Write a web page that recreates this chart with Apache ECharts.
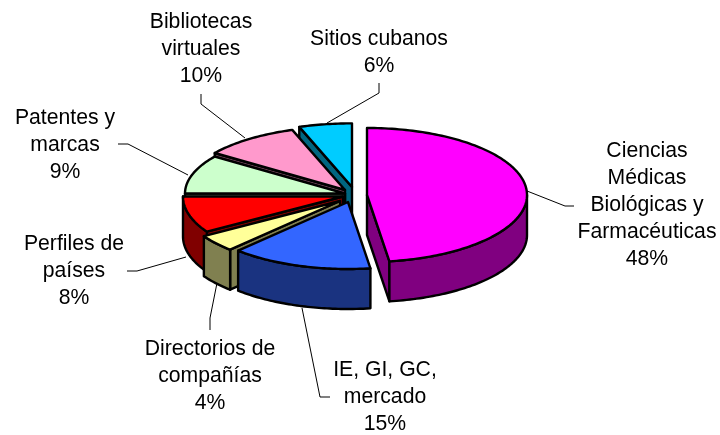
<!DOCTYPE html>
<html>
<head>
<meta charset="utf-8">
<style>html,body{margin:0;background:#fff}#main{width:720px;height:435px}</style>
<script src="https://cdn.jsdelivr.net/npm/echarts@6/dist/echarts.min.js"></script>
</head>
<body>
<div id="main"></div>
<script>
var names = ['Ciencias\nMédicas\nBiológicas y\nFarmacéuticas', 'IE, GI, GC,\nmercado', 'Directorios de\ncompañías', 'Perfiles de\npaíses', 'Patentes y\nmarcas', 'Bibliotecas\nvirtuales', 'Sitios cubanos'];
var values = [48, 15, 4, 8, 9, 10, 6];
var colors = ['#ff00ff', '#3366ff', '#ffff99', '#ff0000', '#ccffcc', '#ff99cc', '#00ccff'];
var sideColors = ['#800080', '#1a3380', '#808050', '#800000', '#668066', '#804d66', '#006680'];

// geometria del pie inclinado
var cx = 352, cy = 195, rx = 160, ry = 67, depth = 40, backScale = 0.95, warp = 0.06;
var explode = [[15, 0], [-4, 7], [-12, 6], [-9, 1.5], [-7, -1.5], [-7, -5], [0, -8]];
var paintOrder = [6, 5, 4, 3, 2, 1, 0]; // rank por indice, de atras hacia adelante
var labelPos = [[647, 151], [385, 370], [210, 349], [74, 244], [65, 118], [201, 22], [379, 39]];
var leaders = [
    [[527, 191], [565, 206], [574, 206]],
    [[302, 308], [320, 397], [330, 397]],
    [[217, 283], [210, 318], [210, 330]],
    [[186, 257], [137, 271], [127, 271]],
    [[188, 175], [128, 144], [118, 144]],
    [[245, 138], [201, 104], [201, 94]],
    [[327, 123], [379, 93], [379, 83]]
];
var lineH = 27;

var total = values.reduce(function(a, b) { return a + b; }, 0);
var starts = [];
values.reduce(function(acc, v, i) { starts[i] = acc; return acc + v; }, 0);

function rim(theta, i, drop) {
    // la perspectiva desplaza un poco los angulos hacia el frente
    var phi = theta - warp * Math.sin(2 * theta) * (theta > Math.PI ? 1 : -1);
    var c = Math.cos(phi), s = Math.sin(phi);
    return [
        cx + explode[i][0] + rx * s,
        cy + explode[i][1] - ry * c * (c > 0 && s < 0 ? backScale : 1) + (drop || 0)
    ];
}
function arc(a, b, i, drop) {
    var pts = [], n = Math.max(2, Math.ceil((b - a) / 0.02));
    for (var k = 0; k <= n; k++) {
        pts.push(rim(a + (b - a) * k / n, i, drop));
    }
    return pts;
}
function poly(points, fill, z) {
    return {
        type: 'polygon',
        z2: z,
        shape: { points: points },
        style: { fill: fill, stroke: '#000', lineWidth: 2.4, lineJoin: 'round' },
        silent: true
    };
}

function renderSlice(params, api) {
    var i = params.dataIndex;
    var v = api.value(0);
    var a = starts[i] / total * Math.PI * 2;
    var b = a + v / total * Math.PI * 2;
    var apex = [cx + explode[i][0], cy + explode[i][1]];
    var apexLow = [apex[0], apex[1] + depth];
    var z = paintOrder[i] * 10;
    var kids = [];

    // cara de corte inicial / final, solo si mira al observador
    if (Math.sin(a) < -0.001) {
        kids.push(poly([apex, rim(a, i), rim(a, i, depth), apexLow], sideColors[i], z));
    }
    if (Math.sin(b) > 0.001) {
        kids.push(poly([apex, rim(b, i), rim(b, i, depth), apexLow], sideColors[i], z));
    }
    // pared exterior
    var w0 = Math.max(a, Math.PI / 2), w1 = Math.min(b, Math.PI * 1.5);
    if (w1 > w0) {
        kids.push(poly(arc(w0, w1, i).concat(arc(w0, w1, i, depth).reverse()), sideColors[i], z + 1));
    }
    // tapa
    kids.push(poly([apex].concat(arc(a, b, i)), colors[i], z + 2));

    // linea guia y etiqueta
    kids.push({
        type: 'polyline',
        z2: 200,
        shape: { points: leaders[i] },
        style: { fill: null, stroke: '#000', lineWidth: 1 },
        silent: true
    });
    kids.push({
        type: 'text',
        z2: 201,
        x: labelPos[i][0],
        y: labelPos[i][1] - lineH / 2,
        style: {
            text: names[i] + '\n' + v + '%',
            fill: '#000',
            font: '21.2px "Liberation Sans", Arial, sans-serif',
            lineHeight: lineH,
            align: 'center',
            verticalAlign: 'top'
        },
        silent: true
    });
    return { type: 'group', children: kids };
}

var myChart = echarts.init(document.getElementById('main'), null, { renderer: 'canvas' });
myChart.setOption({
    backgroundColor: '#fff',
    animation: false,
    series: [{
        type: 'custom',
        coordinateSystem: 'none',
        renderItem: renderSlice,
        data: values.map(function(v) { return [v]; })
    }]
});
</script>
</body>
</html>
